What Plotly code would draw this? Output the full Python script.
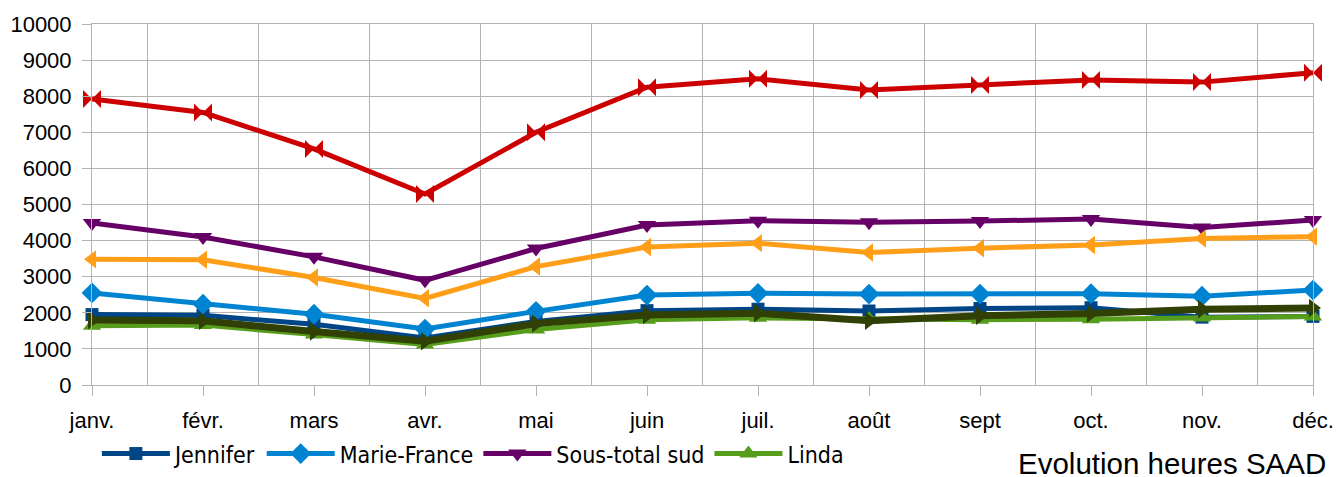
"""
Evolution heures SAAD - courbes mensuelles
Plotly
"""

import plotly.graph_objects as go

# Données
mois = ["janv.", "févr.", "mars", "avr.", "mai", "juin",
        "juil.", "août", "sept", "oct.", "nov.", "déc."]

jennifer = [1950, 1930, 1680, 1300, 1760, 2060, 2100, 2050, 2120, 2140, 1880, 1900]
marie_france = [2550, 2240, 1960, 1550, 2040, 2490, 2540, 2520, 2520, 2530, 2460, 2630]
sous_total_sud = [4490, 4100, 3550, 2900, 3780, 4430, 4550, 4510, 4540, 4600, 4360, 4570]
linda = [1640, 1660, 1400, 1120, 1540, 1810, 1860, 1830, 1810, 1820, 1870, 1900]
sous_total_nord = [3480, 3470, 2980, 2400, 3280, 3820, 3930, 3670, 3790, 3880, 4060, 4110]
autre = [1800, 1780, 1480, 1210, 1700, 1940, 1990, 1780, 1920, 1980, 2100, 2130]
total = [7920, 7550, 6540, 5290, 7000, 8250, 8480, 8170, 8310, 8450, 8390, 8650]

x = list(range(len(mois)))

# (nom, valeurs, couleur, symbole, taille, épaisseur, légende)
series = [
    ("Jennifer", jennifer, "#004586", "square", 13, 5, True),
    ("Marie-France", marie_france, "#0084d1", "diamond", 16, 5, True),
    ("Sous-total sud", sous_total_sud, "#660066", "triangle-down", 16, 5, True),
    ("Linda", linda, "#579d1c", "triangle-up", 16, 5, True),
    ("Sous-total nord", sous_total_nord, "#ff9e19", "triangle-left", 16, 5, False),
    ("Autre", autre, "#314004", "triangle-right", 16, 7, False),
    ("Total", total, "#cc0000", "bowtie", 18, 5, False),
]

fig = go.Figure()

for nom, valeurs, couleur, symbole, taille, epaisseur, leg in series:
    fig.add_trace(go.Scatter(
        x=x,
        y=valeurs,
        mode="lines+markers",
        name=nom,
        showlegend=leg,
        line=dict(color=couleur, width=epaisseur),
        marker=dict(symbol=symbole, size=taille, color=couleur),
        cliponaxis=False,
    ))

grid = "#b3b3b3"

fig.update_layout(
    width=1338,
    height=477,
    margin=dict(l=92, r=25, t=24, b=92, autoexpand=False),
    plot_bgcolor="white",
    paper_bgcolor="white",
    font=dict(family="Liberation Sans, Arial, sans-serif", size=22, color="black"),
    legend=dict(
        orientation="h",
        x=0.004,
        xanchor="left",
        y=-0.19,
        yanchor="middle",
        font=dict(family="DejaVu Sans Condensed, DejaVu Sans, sans-serif", size=23, color="black"),
        itemwidth=68,
        bgcolor="rgba(0,0,0,0)",
    ),
    annotations=[dict(
        text="Evolution heures SAAD",
        xref="paper", yref="paper",
        x=1.0123, y=-0.218,
        xanchor="right", yanchor="middle",
        showarrow=False,
        font=dict(family="Liberation Sans, Arial, sans-serif", size=29.5, color="black"),
    )],
)

fig.update_xaxes(
    range=[0, 11],
    tickvals=x,
    ticktext=mois,
    ticks="outside",
    ticklen=10,
    tickcolor=grid,
    ticklabelstandoff=6,
    showgrid=False,
    minor=dict(tickvals=[i + 0.5 for i in x[:-1]], showgrid=True, gridcolor=grid, gridwidth=1, ticks=""),
    showline=True,
    linecolor=grid,
    mirror=True,
    zeroline=False,
    automargin=False,
)

fig.update_yaxes(
    range=[0, 10000],
    dtick=1000,
    tickformat="d",
    ticks="outside",
    ticklen=9,
    tickcolor=grid,
    ticklabelstandoff=6,
    showgrid=True,
    gridcolor=grid,
    showline=True,
    linecolor=grid,
    mirror=True,
    zeroline=False,
    automargin=False,
)

# pas de marge autour de la figure dans la page
fig.write_html(
    "out.html",
    config={"displayModeBar": False},
    post_script="document.body.style.margin = '0';",
)
